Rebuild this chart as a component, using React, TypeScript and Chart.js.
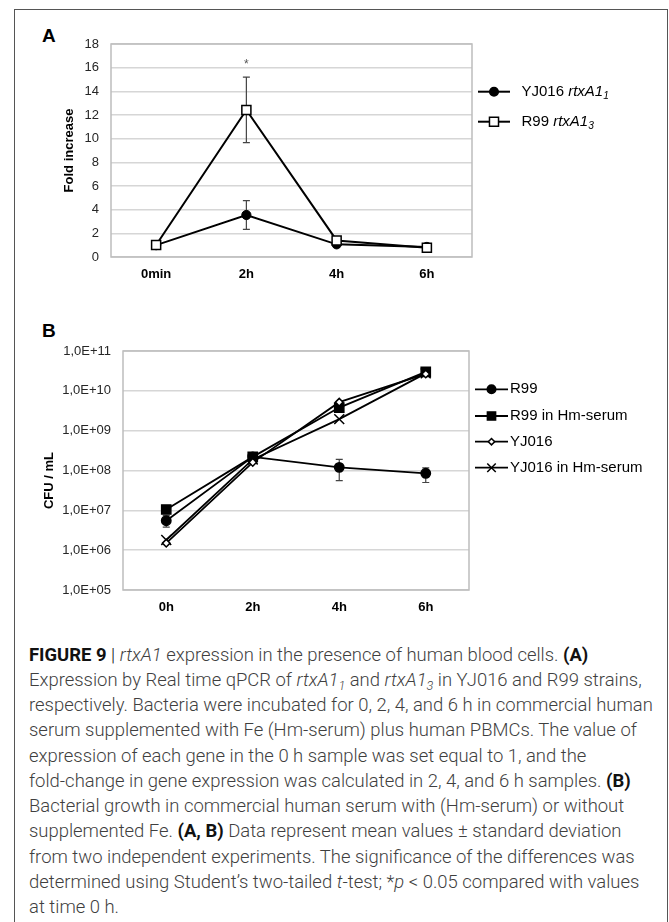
import React, { useEffect, useLayoutEffect, useRef, useState } from 'react';
import { Chart, registerables } from 'chart.js';

Chart.register(...registerables);

const FONT = '"Liberation Sans", Arial, Helvetica, sans-serif';
const CAPTION_FONT = 'Roboto, "Noto Sans", sans-serif';

// ---------- Panel A data ----------
const catsA = ['0min', '2h', '4h', '6h'];
const yj016A = [1.0, 3.55, 1.07, 0.85];
const yj016ErrA = [0.08, 1.22, 0.25, 0.08];
const r99A = [1.01, 12.43, 1.4, 0.78];
const r99ErrA = [0.12, 2.77, 0.12, 0.1];
const yTicksA = [0, 2, 4, 6, 8, 10, 12, 14, 16, 18];
const starA = [null, 16, null, null];

// ---------- Panel B data ----------
const catsB = ['0h', '2h', '4h', '6h'];
const r99B = [5.5e6, 2.2e8, 1.2e8, 8.5e7];
const r99LoB = [3.8e6, null, 5.6e7, 5.0e7];
const r99HiB = [7.5e6, null, 1.9e8, 1.17e8];
const r99HmB = [1.05e7, 2.2e8, 3.8e9, 3.0e10];
const yj016B = [1.5e6, 1.6e8, 5.2e9, 2.65e10];
const yj016HmB = [1.8e6, 1.9e8, 1.95e9, 2.75e10];
const yTickValuesB = [1e5, 1e6, 1e7, 1e8, 1e9, 1e10, 1e11];
const yTicksB = ['1,0E+05', '1,0E+06', '1,0E+07', '1,0E+08', '1,0E+09', '1,0E+10', '1,0E+11'];

const GRID = '#d6d6d6';
const FRAME = '#bdbdbd';

function drawMarker(ctx: any, style: string, x: number, y: number, r: number, fill: string) {
  ctx.beginPath();
  if (style === 'circle') {
    ctx.arc(x, y, r, 0, Math.PI * 2);
  } else if (style === 'rect') {
    const s = r * Math.SQRT1_2;
    ctx.rect(x - s, y - s, 2 * s, 2 * s);
  } else if (style === 'rectRot') {
    ctx.moveTo(x, y - r);
    ctx.lineTo(x + r, y);
    ctx.lineTo(x, y + r);
    ctx.lineTo(x - r, y);
    ctx.closePath();
  } else if (style === 'crossRot') {
    const d = r * Math.SQRT1_2;
    ctx.moveTo(x - d, y - d);
    ctx.lineTo(x + d, y + d);
    ctx.moveTo(x + d, y - d);
    ctx.lineTo(x - d, y + d);
  }
  if (style !== 'crossRot') {
    ctx.fillStyle = fill;
    ctx.fill();
  }
  ctx.stroke();
}

const framePlugin = {
  id: 'frame',
  beforeDatasetsDraw(chart: any) {
    const { ctx, chartArea: a } = chart;
    ctx.save();
    ctx.strokeStyle = FRAME;
    ctx.lineWidth = 1.5;
    ctx.strokeRect(a.left, a.top, a.right - a.left, a.bottom - a.top);
    ctx.restore();
  },
};

const errorBarPlugin = {
  id: 'errorBars',
  beforeDatasetsDraw(chart: any, _args: any, opts: any) {
    const { ctx } = chart;
    const xs = chart.scales.x;
    const ys = chart.scales.y;
    ctx.save();
    ctx.strokeStyle = '#444';
    ctx.lineWidth = 1.2;
    (opts.sets || []).forEach((set: any) => {
      set.lo.forEach((lo: any, i: number) => {
        const hi = set.hi[i];
        if (lo == null || hi == null) return;
        const x = xs.getPixelForValue(i);
        const y1 = ys.getPixelForValue(lo);
        const y2 = ys.getPixelForValue(hi);
        ctx.beginPath();
        ctx.moveTo(x, y1);
        ctx.lineTo(x, y2);
        ctx.moveTo(x - 3.5, y1);
        ctx.lineTo(x + 3.5, y1);
        ctx.moveTo(x - 3.5, y2);
        ctx.lineTo(x + 3.5, y2);
        ctx.stroke();
      });
    });
    ctx.restore();
  },
};

const annotPlugin = {
  id: 'annot',
  afterDraw(chart: any, _args: any, opts: any) {
    const { ctx, chartArea: a } = chart;
    ctx.save();
    if (opts.title) {
      ctx.font = `bold 13px ${FONT}`;
      ctx.fillStyle = '#000';
      ctx.textAlign = 'center';
      ctx.textBaseline = 'middle';
      ctx.translate(a.left + opts.title.dx, (a.top + a.bottom) / 2 + opts.title.dy);
      ctx.rotate(-Math.PI / 2);
      ctx.fillText(opts.title.text, 0, 0);
      ctx.setTransform(1, 0, 0, 1, 0, 0);
    }
    if (opts.stars) {
      ctx.font = `12px ${FONT}`;
      ctx.fillStyle = '#555';
      ctx.textAlign = 'center';
      ctx.textBaseline = 'alphabetic';
      opts.stars.forEach((v: any, i: number) => {
        if (v == null) return;
        ctx.fillText('*', chart.scales.x.getPixelForValue(i), chart.scales.y.getPixelForValue(v));
      });
    }
    if (opts.legend) {
      const L = opts.legend;
      const x0 = a.right + L.dx;
      L.items.forEach((it: any, k: number) => {
        const y = a.top + L.rows[k];
        ctx.strokeStyle = '#000';
        ctx.lineWidth = L.lineWidth;
        ctx.beginPath();
        ctx.moveTo(x0, y);
        ctx.lineTo(x0 + L.lineLen, y);
        ctx.stroke();
        ctx.lineWidth = 1.5;
        drawMarker(ctx, it.style, x0 + L.lineLen / 2, y, it.r, it.fill);
        let cx = x0 + L.textDx;
        ctx.fillStyle = '#000';
        ctx.textAlign = 'left';
        ctx.textBaseline = 'middle';
        it.parts.forEach((p: any) => {
          const fs = p.sub ? L.size * 0.68 : L.size;
          ctx.font = `${p.italic ? 'italic ' : ''}${fs}px ${FONT}`;
          ctx.fillText(p.text, cx, p.sub ? y + L.size * 0.3 : y);
          cx += ctx.measureText(p.text).width;
        });
      });
    }
    ctx.restore();
  },
};

function configA(): any {
  return {
    type: 'line',
    data: {
      labels: catsA,
      datasets: [
        {
          label: 'R99 rtxA1_3',
          data: r99A,
          order: 0,
          borderColor: '#000',
          borderWidth: 2,
          tension: 0,
          pointStyle: 'rect',
          pointRadius: 6.4,
          pointBackgroundColor: '#fff',
          pointBorderColor: '#000',
          pointBorderWidth: 1.5,
        },
        {
          label: 'YJ016 rtxA1_1',
          data: yj016A,
          order: 1,
          borderColor: '#000',
          borderWidth: 2,
          tension: 0,
          pointStyle: 'circle',
          pointRadius: 4.6,
          pointBackgroundColor: '#000',
          pointBorderColor: '#000',
          pointBorderWidth: 1,
        },
      ],
    },
    options: {
      animation: false,
      responsive: false,
      devicePixelRatio: 1,
      events: [],
      layout: { padding: { left: 0, right: 197, top: 44, bottom: 8 } },
      scales: {
        x: {
          type: 'category',
          offset: true,
          grid: { display: false, drawTicks: false },
          border: { display: false },
          ticks: { font: { family: FONT, size: 13, weight: 'bold' }, color: '#000', padding: 10, maxRotation: 0, autoSkip: false },
          afterFit: (s: any) => { s.height = 30; },
        },
        y: {
          min: 0,
          max: 18,
          afterBuildTicks: (s: any) => { s.ticks = yTicksA.map((v) => ({ value: v })); },
          ticks: { font: { family: FONT, size: 13 }, color: '#262626', padding: 12 },
          grid: { color: GRID, lineWidth: 1.5, drawTicks: false },
          border: { display: false },
          afterFit: (s: any) => { s.width = 111; },
        },
      },
      plugins: {
        legend: { display: false },
        tooltip: { enabled: false },
        errorBars: {
          sets: [
            { lo: yj016A.map((v, i) => v - yj016ErrA[i]), hi: yj016A.map((v, i) => v + yj016ErrA[i]) },
            { lo: r99A.map((v, i) => v - r99ErrA[i]), hi: r99A.map((v, i) => v + r99ErrA[i]) },
          ],
        },
        annot: {
          title: { text: 'Fold increase', dx: -41.5, dy: 0 },
          stars: starA,
          legend: {
            dx: 6, lineLen: 32, textDx: 43.5, size: 15, lineWidth: 2,
            rows: [47.7, 77.7],
            items: [
              { style: 'circle', r: 4.3, fill: '#000', parts: [{ text: 'YJ016 ' }, { text: 'rtxA1', italic: true }, { text: '1', italic: true, sub: true }] },
              { style: 'rect', r: 6.4, fill: '#fff', parts: [{ text: 'R99 ' }, { text: 'rtxA1', italic: true }, { text: '3', italic: true, sub: true }] },
            ],
          },
        },
      },
    },
    plugins: [framePlugin, errorBarPlugin, annotPlugin],
  };
}

function configB(): any {
  const base = { borderColor: '#000', borderWidth: 1.8, tension: 0, pointBorderColor: '#000', pointBorderWidth: 1.5 };
  return {
    type: 'line',
    data: {
      labels: catsB,
      datasets: [
        { ...base, label: 'YJ016', data: yj016B, order: 0, pointStyle: 'rectRot', pointRadius: 3.8, pointBackgroundColor: '#fff' },
        { ...base, label: 'R99 in Hm-serum', data: r99HmB, order: 1, pointStyle: 'rect', pointRadius: 6.5, pointBackgroundColor: '#000' },
        { ...base, label: 'YJ016 in Hm-serum', data: yj016HmB, order: 2, pointStyle: 'crossRot', pointRadius: 7, pointBackgroundColor: '#000' },
        { ...base, label: 'R99', data: r99B, order: 3, pointStyle: 'circle', pointRadius: 4.7, pointBackgroundColor: '#000' },
      ],
    },
    options: {
      animation: false,
      responsive: false,
      devicePixelRatio: 1,
      events: [],
      layout: { padding: { left: 0, right: 200, top: 51, bottom: 10 } },
      scales: {
        x: {
          type: 'category',
          offset: true,
          grid: { display: false, drawTicks: false },
          border: { display: false },
          ticks: { font: { family: FONT, size: 13, weight: 'bold' }, color: '#000', padding: 10, maxRotation: 0, autoSkip: false },
          afterFit: (s: any) => { s.height = 30; },
        },
        y: {
          type: 'logarithmic',
          min: 1e5,
          max: 1e11,
          afterBuildTicks: (s: any) => { s.ticks = yTickValuesB.map((v) => ({ value: v })); },
          ticks: {
            font: { family: FONT, size: 13 },
            color: '#262626',
            padding: 12,
            callback: (v: any) => yTicksB[yTickValuesB.indexOf(v)] ?? '',
          },
          grid: { color: GRID, lineWidth: 1.5, drawTicks: false },
          border: { display: false },
          afterFit: (s: any) => { s.width = 123; },
        },
      },
      plugins: {
        legend: { display: false },
        tooltip: { enabled: false },
        errorBars: { sets: [{ lo: r99LoB, hi: r99HiB }] },
        annot: {
          title: { text: 'CFU / mL', dx: -74, dy: 10 },
          legend: {
            dx: 6, lineLen: 33, textDx: 35, size: 15, lineWidth: 1.8,
            rows: [38.3, 65, 90.7, 116.7],
            items: [
              { style: 'circle', r: 4.3, fill: '#000', parts: [{ text: 'R99' }] },
              { style: 'rect', r: 5.8, fill: '#000', parts: [{ text: 'R99 in Hm-serum' }] },
              { style: 'rectRot', r: 3.2, fill: '#fff', parts: [{ text: 'YJ016' }] },
              { style: 'crossRot', r: 6, fill: '#000', parts: [{ text: 'YJ016 in Hm-serum' }] },
            ],
          },
        },
      },
    },
    plugins: [framePlugin, errorBarPlugin, annotPlugin],
  };
}

function ChartBox({ make, left, top, width, height }: any) {
  const ref = useRef<HTMLCanvasElement>(null);
  useEffect(() => {
    const c = new Chart(ref.current as HTMLCanvasElement, make());
    return () => c.destroy();
  }, []);
  return (
    <div style={{ position: 'absolute', left, top, width, height }}>
      <canvas ref={ref} width={width} height={height} style={{ width, height, display: 'block' }} />
    </div>
  );
}

const sub = (t: string) => (
  <sub style={{ fontSize: '0.68em', verticalAlign: '-0.3em', lineHeight: 0 }}><i>{t}</i></sub>
);
const B = (t: string) => <b style={{ fontWeight: 700, color: '#111' }}>{t}</b>;

const captionLines: React.ReactNode[] = [
  <>{B('FIGURE 9')} <span style={{ color: '#111' }}>|</span> <i>rtxA1</i> expression in the presence of human blood cells. {B('(A)')}</>,
  <>Expression by Real time qPCR of <i>rtxA1</i>{sub('1')} and <i>rtxA1</i>{sub('3')} in YJ016 and R99 strains,</>,
  <>respectively. Bacteria were incubated for 0, 2, 4, and 6 h in commercial human</>,
  <>serum supplemented with Fe (Hm-serum) plus human PBMCs. The value of</>,
  <>expression of each gene in the 0 h sample was set equal to 1, and the</>,
  <>fold-change in gene expression was calculated in 2, 4, and 6 h samples. {B('(B)')}</>,
  <>Bacterial growth in commercial human serum with (Hm-serum) or without</>,
  <>supplemented Fe. {B('(A, B)')} Data represent mean values ± standard deviation</>,
  <>from two independent experiments. The significance of the differences was</>,
  <>determined using Student’s two-tailed <i>t</i>-test; *<i>p</i> &lt; 0.05 compared with values</>,
  <>at time 0 h.</>,
];

export default function App() {
  const measureRef = useRef<HTMLDivElement>(null);
  const [sx, setSx] = useState(0.9);
  useLayoutEffect(() => {
    const measure = () => {
      const el = measureRef.current;
      if (el && el.offsetWidth > 0) setSx(624 / el.offsetWidth);
    };
    measure();
    const f: any = (document as any).fonts;
    if (f && f.ready) f.ready.then(measure);
  }, []);

  return (
    <div style={{ position: 'absolute', left: 0, top: 0, width: 669, height: 922, overflow: 'hidden', background: '#fff' }}>
      <div
        style={{
          position: 'absolute', left: 14, top: 9, width: 654, height: 960, boxSizing: 'border-box',
          borderTop: '1px solid #555', borderLeft: '1px solid #555', borderRight: '1px solid #555',
        }}
      />
      <div style={{ position: 'absolute', left: 42, top: 25.6, font: `bold 19px ${FONT}`, lineHeight: '19px', color: '#000' }}>A</div>
      <div style={{ position: 'absolute', left: 42, top: 320.6, font: `bold 19px ${FONT}`, lineHeight: '19px', color: '#000' }}>B</div>
      <ChartBox make={configA} left={0} top={0} width={669} height={295} />
      <ChartBox make={configB} left={0} top={300} width={669} height={330} />
      {captionLines.map((ln, i) => (
        <div
          key={i}
          ref={i === 2 ? measureRef : undefined}
          style={{
            position: 'absolute', left: 28.6, top: 641.5 + 25.27 * i, height: 25.27, lineHeight: '25.27px',
            whiteSpace: 'nowrap', fontFamily: CAPTION_FONT, fontWeight: 300, fontSize: 19, color: '#3f3f3f',
            transform: `scaleX(${sx})`, transformOrigin: '0 0',
          }}
        >
          {ln}
        </div>
      ))}
    </div>
  );
}
